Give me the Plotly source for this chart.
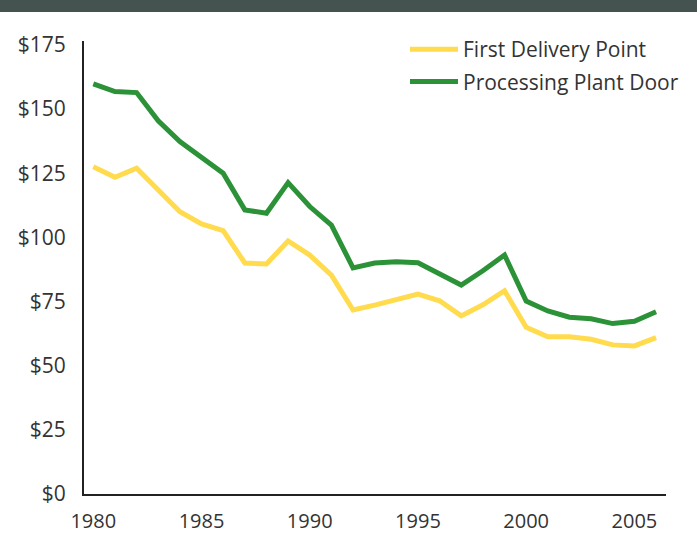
import plotly.graph_objects as go

years = list(range(1980, 2007))
first_delivery = [127.5, 123.4, 126.9, 118.7, 110.0, 105.2, 102.6, 90.0, 89.6, 98.6,
                  93.1, 85.3, 71.7, 73.6, 75.6, 77.9, 75.3, 69.4, 73.7, 79.2,
                  65.0, 61.3, 61.3, 60.3, 58.1, 57.7, 60.9]
plant_door = [159.8, 156.8, 156.4, 145.4, 137.3, 131.2, 125.0, 110.7, 109.4, 121.3,
              112.0, 104.8, 88.1, 90.0, 90.5, 90.1, 86.0, 81.4, 87.0, 93.1,
              75.2, 71.3, 68.9, 68.3, 66.4, 67.3, 71.0]
x_ticks = [1980, 1985, 1990, 1995, 2000, 2005]
y_ticks = [0, 25, 50, 75, 100, 125, 150, 175]
y_labels = ["$" + str(v) for v in y_ticks]

W, H = 697, 539
ML, MR, MT, MB = 84, 31, 41, 45
pw, ph = W - ML - MR, H - MT - MB

def px_to_paper_x(px):
    return (px - ML) / pw

def px_to_paper_y(py):
    return (H - MB - py) / ph

fig = go.Figure()
fig.add_trace(go.Scatter(x=years, y=first_delivery, mode="lines",
                         name="First Delivery Point", legendgroup="a",
                         line=dict(color="#FFDB4D", width=5)))
fig.add_trace(go.Scatter(x=years, y=plant_door, mode="lines",
                         name="Processing Plant Door", legendgroup="b",
                         line=dict(color="#2B9238", width=5)))

fig.add_shape(type="rect", xref="paper", yref="paper",
              x0=px_to_paper_x(0), x1=px_to_paper_x(W),
              y0=px_to_paper_y(12), y1=px_to_paper_y(0),
              fillcolor="#455350", line=dict(width=0), layer="below")

fig.update_layout(
    width=W, height=H,
    margin=dict(l=ML, r=MR, t=MT, b=MB),
    paper_bgcolor="white", plot_bgcolor="white",
    font=dict(family="Open Sans", color="#333333"),
    showlegend=True,
    legend=dict(x=px_to_paper_x(405), y=px_to_paper_y(29), xanchor="left", yanchor="top",
                font=dict(size=21, color="#333333"), itemwidth=48,
                bgcolor="rgba(0,0,0,0)", tracegroupgap=2),
    xaxis=dict(range=[1979.57, 2006.46], tickvals=x_ticks,
               ticktext=[str(v) for v in x_ticks],
               showgrid=False, zeroline=False, showline=True,
               linecolor="#222222", linewidth=2, ticks="",
               ticklabelstandoff=8, automargin=False,
               tickfont=dict(size=20, color="#333333")),
    yaxis=dict(range=[0, 176.5], tickvals=y_ticks, ticktext=y_labels,
               showgrid=False, zeroline=False, showline=True,
               linecolor="#222222", linewidth=2, ticks="",
               ticklabelstandoff=12, automargin=False,
               tickfont=dict(size=21, color="#333333")),
)

fig.write_html("out.html", config={"displayModeBar": False},
               post_script="document.body.style.margin='0';document.body.style.padding='0';")
